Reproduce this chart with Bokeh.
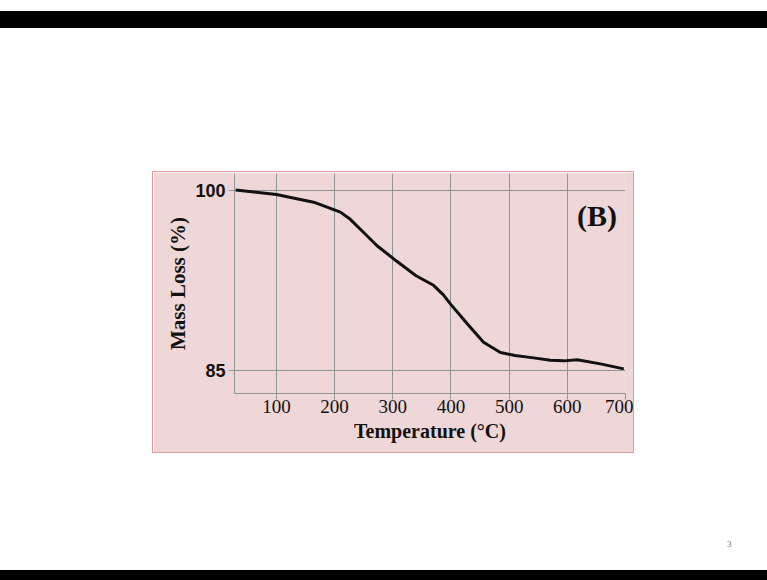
from bokeh.plotting import figure
from bokeh.models import Label, FixedTicker, Range1d, Div, Spacer
from bokeh.layouts import column, row
from bokeh.embed import file_html
from bokeh.resources import INLINE

# Data (TGA curve)
temperature = [30, 100, 164, 210, 227, 250, 273, 307, 340, 370, 387, 399,
               428, 456, 485, 510, 542, 571, 594, 617, 657, 697]
mass_loss = [100.05, 99.67, 99.03, 98.2, 97.6, 96.5, 95.4, 94.1, 92.9, 92.1, 91.3, 90.55,
             88.9, 87.35, 86.5, 86.25, 86.05, 85.85, 85.8, 85.9, 85.55, 85.13]
x_ticks = [100, 200, 300, 400, 500, 600, 700]
y_ticks = [85, 100]
panel_label = "(B)"
page_number = "3"

PINK = "#efd6d7"
GRID = "#8e9696"
SERIF = "Liberation Serif"
SANS = "Liberation Sans"

p = figure(width=480, height=280, output_backend="svg", toolbar_location=None,
           x_range=Range1d(28, 700), y_range=Range1d(83.08, 101.42),
           min_border_left=81, min_border_right=8, min_border_top=1, min_border_bottom=59,
           border_fill_color=PINK, background_fill_color=PINK, outline_line_color=None,
           styles={"outline": "1px solid #e29ca4"})

p.line(temperature, mass_loss, line_color="#111111", line_width=3)

for g, t in ((p.xgrid, x_ticks), (p.ygrid, y_ticks)):
    g.ticker = FixedTicker(ticks=t)
    g.grid_line_color = GRID
    g.grid_line_width = 1

xa = p.xaxis[0]
xa.ticker = FixedTicker(ticks=x_ticks)
xa.axis_line_color = GRID
xa.major_tick_line_color = GRID
xa.major_tick_out = 6
xa.major_tick_in = 0
xa.minor_tick_line_color = None
xa.major_label_standoff = 0
xa.major_label_text_font = SERIF
xa.major_label_text_font_size = "19px"
xa.major_label_text_color = "#111111"
xa.axis_label = "Temperature (\u00b0C)"
xa.axis_label_text_font = SERIF
xa.axis_label_text_font_style = "bold"
xa.axis_label_text_font_size = "20px"
xa.axis_label_text_color = "#111111"
xa.axis_label_standoff = 4

ya = p.yaxis[0]
ya.ticker = FixedTicker(ticks=y_ticks)
ya.axis_line_color = GRID
ya.major_tick_line_color = GRID
ya.major_tick_out = 6
ya.major_tick_in = 0
ya.minor_tick_line_color = None
ya.major_label_standoff = 3
ya.major_label_text_font = SANS
ya.major_label_text_font_style = "bold"
ya.major_label_text_font_size = "18px"
ya.major_label_text_color = "#111111"
ya.axis_label = "Mass Loss (%)"
ya.axis_label_text_font = SERIF
ya.axis_label_text_font_style = "bold"
ya.axis_label_text_font_size = "21px"
ya.axis_label_text_color = "#111111"
ya.axis_label_standoff = 2

p.add_layout(Label(x=651, y=97.95, text=panel_label, text_font=SERIF, text_font_style="bold",
                   text_font_size="30px", text_align="center", text_baseline="middle",
                   text_color="#111111"))

def bar(h):
    return Div(text="", width=767, height=h, margin=0, styles={"background-color": "black"})

page_div = Div(text=page_number, width=20, height=14, margin=0,
               styles={"font-family": SERIF, "font-size": "9px", "color": "#777777"})

layout = column(
    Spacer(width=767, height=11, margin=0),
    bar(17),
    Spacer(width=767, height=144, margin=0),
    row(Spacer(width=153, height=280, margin=0), p, margin=0, spacing=0),
    Spacer(width=767, height=86, margin=0),
    row(Spacer(width=727, height=14, margin=0), page_div, margin=0, spacing=0),
    Spacer(width=767, height=18, margin=0),
    bar(10),
    margin=0, spacing=0,
)

open("out.html", "w").write(file_html(layout, INLINE))
